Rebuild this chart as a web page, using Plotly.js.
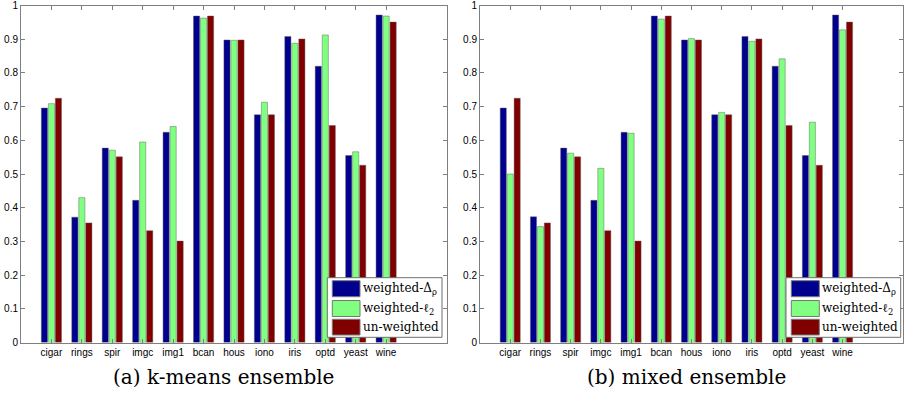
<!DOCTYPE html>
<html>
<head>
<meta charset="utf-8">
<script src="https://cdn.plot.ly/plotly-3.0.1.min.js"></script>
<style>html,body{margin:0;padding:0;background:#fff;}#chart{width:906px;height:393px;}</style>
</head>
<body>
<div id="chart"></div>
<script>
// ---- data ----
const categories = ["cigar","rings","spir","imgc","img1","bcan","hous","iono","iris","optd","yeast","wine"];
const seriesNames = ["weighted-Δ<sub>ρ</sub>", "weighted-ℓ<sub>2</sub>", "un-weighted"];
// (a) k-means ensemble
const kmeansDeltaRho = [0.696,0.372,0.577,0.422,0.624,0.969,0.898,0.676,0.908,0.820,0.555,0.972];
const kmeansL2       = [0.709,0.430,0.571,0.595,0.641,0.963,0.897,0.713,0.888,0.913,0.566,0.969];
const kmeansUnw      = [0.725,0.355,0.551,0.332,0.301,0.969,0.898,0.676,0.901,0.644,0.526,0.951];
// (b) mixed ensemble
const mixedDeltaRho  = [0.696,0.373,0.577,0.422,0.624,0.969,0.898,0.676,0.908,0.820,0.555,0.972];
const mixedL2        = [0.500,0.344,0.562,0.517,0.621,0.960,0.902,0.683,0.894,0.842,0.654,0.928];
const mixedUnw       = [0.725,0.355,0.551,0.332,0.301,0.969,0.898,0.676,0.901,0.644,0.526,0.951];
const yTickVals = [0,0.1,0.2,0.3,0.4,0.5,0.6,0.7,0.8,0.9,1];
const yTickText = ["0","0.1","0.2","0.3","0.4","0.5","0.6","0.7","0.8","0.9","1"];
const captions = ["(a) k-means ensemble", "(b) mixed ensemble"];

// ---- styling ----
const colors = ["#00008F", "#80FF80", "#800000"];
const W = 906, H = 393;
const xpos = categories.map((c,i)=>i+1);

function bars(vals, k, xa, ya) {
  return {
    type: "bar", x: xpos, y: vals, xaxis: xa, yaxis: ya,
    name: seriesNames[k], showlegend: false,
    marker: {color: colors[k], line: {color: "rgba(90,90,90,0.55)", width: 0.8}},
    hoverinfo: "y"
  };
}
const data = [
  bars(kmeansDeltaRho,0,"x","y"), bars(kmeansL2,1,"x","y"), bars(kmeansUnw,2,"x","y"),
  bars(mixedDeltaRho,0,"x2","y2"), bars(mixedL2,1,"x2","y2"), bars(mixedUnw,2,"x2","y2")
];

const axColor = "#7f7f7f";
const tickFont = {family: "Liberation Sans, Arial, sans-serif", size: 10, color: "#000"};
function xaxis(domain, anchor) {
  return {domain: domain, anchor: anchor, range: [0,14], tickvals: xpos, ticktext: categories,
    ticks: "inside", ticklen: 4, tickcolor: axColor, showline: true, linecolor: axColor, linewidth: 1,
    mirror: "ticks", showgrid: false, zeroline: false, tickfont: tickFont, fixedrange: true};
}
function yaxis(domain, anchor) {
  return {domain: domain, anchor: anchor, range: [0,1], tickvals: yTickVals, ticktext: yTickText,
    ticks: "inside", ticklen: 4, tickcolor: axColor, showline: true, linecolor: axColor, linewidth: 1,
    mirror: "ticks", showgrid: false, zeroline: false, tickfont: tickFont, fixedrange: true};
}
const yDom = [(H-342.5)/H, (H-5.6)/H];

// custom legends (paper coords)
const shapes = [], annotations = [];
function px(x){return x/W;} function py(y){return 1-y/H;}
function legend(x0, x1, y0, y1, swX0, swX1, txtX) {
  shapes.push({type:"rect", xref:"paper", yref:"paper", x0:px(x0), x1:px(x1), y0:py(y1), y1:py(y0),
    line:{color:"#6f6f6f", width:1}, fillcolor:"#fff", layer:"above"});
  const rowsY = [[280.7,296.7],[300.5,316.5],[319.3,335]];
  rowsY.forEach((r,k)=>{
    shapes.push({type:"rect", xref:"paper", yref:"paper", x0:px(swX0), x1:px(swX1), y0:py(r[1]), y1:py(r[0]),
      line:{color:"#777", width:1}, fillcolor:colors[k], layer:"above"});
    annotations.push({xref:"paper", yref:"paper", x:px(txtX), y:py((r[0]+r[1])/2), xanchor:"left", yanchor:"middle",
      text: seriesNames[k], showarrow:false, font:{family:"DejaVu Serif, serif", size:12, color:"#000"}});
  });
}
legend(327.3, 442, 277.7, 337.3, 332.3, 360, 361);
legend(786, 900.7, 277.7, 337.3, 791.3, 819.3, 820);

annotations.push({xref:"paper", yref:"paper", x:px(223), y:py(377), xanchor:"center", yanchor:"middle",
  text: captions[0], showarrow:false, font:{family:"DejaVu Serif, serif", size:20, color:"#000"}});
annotations.push({xref:"paper", yref:"paper", x:px(686), y:py(377), xanchor:"center", yanchor:"middle",
  text: captions[1], showarrow:false, font:{family:"DejaVu Serif, serif", size:20, color:"#000"}});

const layout = {
  width: W, height: H, margin: {l:0, r:0, t:0, b:0},
  paper_bgcolor: "#fff", plot_bgcolor: "#fff",
  barmode: "group", bargap: 0.31, bargroupgap: 0.12,
  showlegend: false,
  xaxis: xaxis([21/W, 447/W], "y"), yaxis: yaxis(yDom, "x"),
  xaxis2: xaxis([480/W, 903/W], "y2"), yaxis2: yaxis(yDom, "x2"),
  shapes: shapes, annotations: annotations
};
Plotly.newPlot("chart", data, layout, {displayModeBar: false, staticPlot: true});
</script>
</body>
</html>
